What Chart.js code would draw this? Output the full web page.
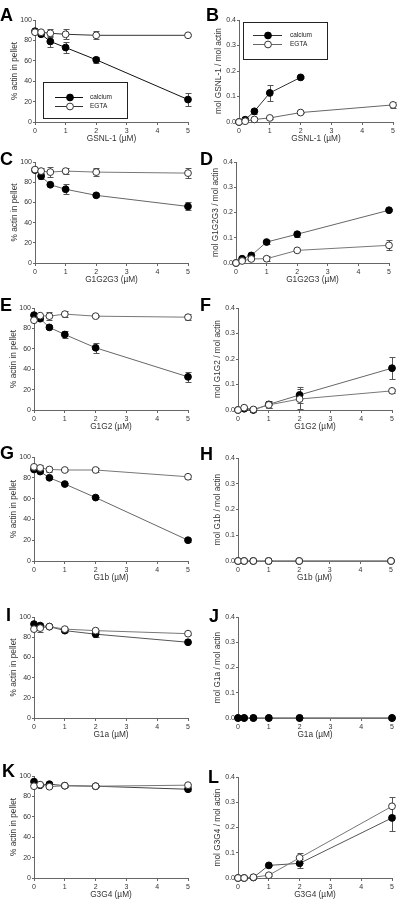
<!DOCTYPE html>
<html><head><meta charset="utf-8">
<script src="https://cdn.jsdelivr.net/npm/chart.js@4"></script>
<style>
html,body{margin:0;padding:0;background:#fff;}
body{width:400px;height:909px;position:relative;overflow:hidden;font-family:"Liberation Sans",Arial,sans-serif;}
.panel{position:absolute;}
.letter{position:absolute;font-weight:bold;font-size:18px;line-height:1;color:#000;font-family:"Liberation Sans",Arial,sans-serif;}
</style></head><body>
<script>
// ---------- data ----------
const conc = [0, 0.2, 0.5, 1, 2, 5];
const concShort = [0, 0.2, 0.5, 1, 2];
const xTicks = [0, 1, 2, 3, 4, 5];
const pctTicks = [0, 20, 40, 60, 80, 100];
const molTicks = [0.0, 0.1, 0.2, 0.3, 0.4];
const seriesNames = ["calcium", "EGTA"];

// A: GSNL-1, % actin in pellet
const A_calcium = [89, 86, 79, 73, 61, 22];
const A_calcium_err = [2, 2, 5, 5, 3, 6];
const A_egta = [88, 88, 87, 86, 85, 85];
const A_egta_err = [2, 1, 4, 5, 4, 1];
// B: GSNL-1, mol/mol
const B_calcium = [0, 0.009, 0.042, 0.114, 0.175];
const B_calcium_err = [0, 0.003, 0.01, 0.03, 0.004];
const B_egta = [0, 0.003, 0.01, 0.016, 0.037, 0.067];
const B_egta_err = [0, 0, 0.002, 0.003, 0.003, 0.012];
// C: G1G2G3
const C_calcium = [92, 86, 77.5, 73, 67, 56];
const C_calcium_err = [1, 3, 1.5, 5, 2, 4];
const C_egta = [92.5, 91, 90, 91, 90, 89];
const C_egta_err = [1, 3, 5, 3, 4, 5];
// D
const D_calcium = [0, 0.017, 0.03, 0.083, 0.114, 0.209];
const D_calcium_err = [0, 0.003, 0.004, 0.008, 0.01, 0.004];
const D_egta = [0, 0.008, 0.016, 0.017, 0.05, 0.07];
const D_egta_err = [0, 0.002, 0.003, 0.01, 0.004, 0.02];
// E: G1G2
const E_calcium = [93, 89.5, 81, 74, 61, 32.5];
const E_calcium_err = [2, 1, 2, 3, 5, 5];
const E_egta = [88, 92.5, 92, 94, 92, 91];
const E_egta_err = [1, 1, 4, 3, 1, 3];
// F
const F_calcium = [0, 0.005, 0, 0.022, 0.059, 0.164];
const F_calcium_err = [0, 0, 0, 0.015, 0.03, 0.043];
const F_egta = [0, 0.009, 0.002, 0.02, 0.043, 0.075];
const F_egta_err = [0, 0.003, 0.008, 0.012, 0.04, 0.008];
// G: G1b
const G_calcium = [88, 86, 80, 74, 61, 20];
const G_calcium_err = [1, 1, 1, 1, 1, 2];
const G_egta = [90.5, 89.5, 88, 87.5, 87.5, 81];
const G_egta_err = [1, 3, 2, 1, 2, 2];
// H
const H_calcium = [0, 0, 0, 0, 0, 0];
const H_egta = [0, 0, 0, 0, 0, 0];
// I: G1a
const I_calcium = [93, 91.5, 90.5, 86.5, 83, 75];
const I_calcium_err = [1, 3, 1, 1, 3, 1];
const I_egta = [88, 89, 90.5, 88, 86.5, 83.5];
const I_egta_err = [1, 4, 1, 1, 1, 1];
// J
const J_calcium = [0, 0, 0, 0, 0, 0];
const J_egta = [0, 0, 0, 0, 0, 0];
// K: G3G4
const K_calcium = [94.5, 91, 92, 90.5, 90, 87];
const K_calcium_err = [1, 1, 1, 1, 1, 2];
const K_egta = [90, 91.5, 89.5, 90.5, 90, 91];
const K_egta_err = [1, 1, 1, 1, 1, 1];
// L
const L_calcium = [0, 0, 0.002, 0.05, 0.058, 0.238];
const L_calcium_err = [0, 0, 0, 0.003, 0.018, 0.05];
const L_egta = [0, 0, 0.003, 0.011, 0.08, 0.284];
const L_egta_err = [0, 0, 0.002, 0.005, 0.02, 0.035];

const xTitles = ["GSNL-1 (µM)", "G1G2G3 (µM)", "G1G2 (µM)", "G1b (µM)", "G1a (µM)", "G3G4 (µM)"];
const molTitles = ["mol GSNL-1 / mol actin", "mol G1G2G3 / mol actin", "mol G1G2 / mol actin", "mol G1b / mol actin", "mol G1a / mol actin", "mol G3G4 / mol actin"];
const pctTitle = "% actin in pellet";

// ---------- layout / style ----------
const FONT = "'Liberation Sans', Arial, sans-serif";
const Y_W = 35, X_H = 30, PAD_T = 10, PAD_R = 10;

const panels = [
  {id:'A', kind:'pct', row:0, ca:[conc,A_calcium,A_calcium_err], eg:[conc,A_egta,A_egta_err], rect:[35,20,188,122], letter:[0,6], caLine:'#111', egLine:'#333',
   legend:{dx:8, dy:62, w:84, h:36, rows:[15,24], l0:12, l1:40, m:27, t:47}},
  {id:'B', kind:'mol', row:0, ca:[concShort,B_calcium,B_calcium_err], eg:[conc,B_egta,B_egta_err], rect:[239,20,393,122], letter:[206,6], caLine:'#333', egLine:'#666',
   legend:{dx:4, dy:2, w:84, h:37, rows:[13,21.5], l0:10, l1:39, m:25, t:47}},
  {id:'C', kind:'pct', row:1, ca:[conc,C_calcium,C_calcium_err], eg:[conc,C_egta,C_egta_err], rect:[35,162,188,263], letter:[0,150], caLine:'#666', egLine:'#777'},
  {id:'D', kind:'mol', row:1, ca:[conc,D_calcium,D_calcium_err], eg:[conc,D_egta,D_egta_err], rect:[236,162,389,263], letter:[200,150], caLine:'#666', egLine:'#777'},
  {id:'E', kind:'pct', row:2, ca:[conc,E_calcium,E_calcium_err], eg:[conc,E_egta,E_egta_err], rect:[34,308,188,410], letter:[0,296], caLine:'#666', egLine:'#777'},
  {id:'F', kind:'mol', row:2, ca:[conc,F_calcium,F_calcium_err], eg:[conc,F_egta,F_egta_err], rect:[238,308,392,410], letter:[200,296], caLine:'#666', egLine:'#777'},
  {id:'G', kind:'pct', row:3, ca:[conc,G_calcium,G_calcium_err], eg:[conc,G_egta,G_egta_err], rect:[34,457,188,561], letter:[0,444], caLine:'#666', egLine:'#777'},
  {id:'H', kind:'mol', row:3, ca:[conc,H_calcium,null], eg:[conc,H_egta,null], rect:[238,458,391,561], letter:[200,445], caLine:'#777', egLine:'#777'},
  {id:'I', kind:'pct', row:4, ca:[conc,I_calcium,I_calcium_err], eg:[conc,I_egta,I_egta_err], rect:[34,617,188,718], letter:[6,606], caLine:'#555', egLine:'#777'},
  {id:'J', kind:'mol', row:4, ca:[conc,J_calcium,null], eg:[conc,J_egta,null], rect:[238,617,392,718], letter:[209,607], caLine:'#777', egLine:'#777', caTop:true},
  {id:'K', kind:'pct', row:5, ca:[conc,K_calcium,K_calcium_err], eg:[conc,K_egta,K_egta_err], rect:[34,776,188,878], letter:[2,762], caLine:'#444', egLine:'#777'},
  {id:'L', kind:'mol', row:5, ca:[conc,L_calcium,L_calcium_err], eg:[conc,L_egta,L_egta_err], rect:[238,777,392,878], letter:[208,768], caLine:'#555', egLine:'#777'}
];

// ---------- plugins ----------
const errorBarPlugin = {
  id: 'errorBars',
  beforeDatasetsDraw(chart) {
    const {ctx} = chart;
    const xs = chart.scales.x, ys = chart.scales.y;
    chart.data.datasets.forEach(ds => {
      if (!ds.errors) return;
      ctx.save();
      ctx.strokeStyle = ds.errorColor || '#555';
      ctx.lineWidth = 1;
      ds.data.forEach((p, j) => {
        const e = ds.errors[j];
        if (!e) return;
        const px = Math.round(xs.getPixelForValue(p.x)) + 0.5;
        const y1 = Math.round(ys.getPixelForValue(p.y + e)) + 0.5;
        const y2 = Math.round(ys.getPixelForValue(p.y - e)) + 0.5;
        ctx.beginPath();
        ctx.moveTo(px, y1); ctx.lineTo(px, y2);
        ctx.moveTo(px - 3, y1); ctx.lineTo(px + 3, y1);
        ctx.moveTo(px - 3, y2); ctx.lineTo(px + 3, y2);
        ctx.stroke();
      });
      ctx.restore();
    });
  }
};

const boxLegendPlugin = {
  id: 'boxLegend',
  afterDraw(chart, args, o) {
    if (!o || !o.display) return;
    const {ctx, chartArea} = chart;
    const bx = Math.round(chartArea.left + o.dx), by = Math.round(chartArea.top + o.dy);
    ctx.save();
    ctx.fillStyle = '#fff';
    ctx.fillRect(bx, by, o.w, o.h);
    ctx.strokeStyle = '#222'; ctx.lineWidth = 1;
    ctx.strokeRect(bx + 0.5, by + 0.5, o.w, o.h);
    chart.data.datasets.forEach((ds, i) => {
      const ry = Math.round(by + o.rows[i]) + 0.5;
      ctx.strokeStyle = ds.borderColor; ctx.lineWidth = 1;
      ctx.beginPath(); ctx.moveTo(bx + o.l0, ry); ctx.lineTo(bx + o.l1, ry); ctx.stroke();
      ctx.beginPath(); ctx.arc(bx + o.m, ry, ds.pointRadius, 0, Math.PI * 2);
      ctx.fillStyle = ds.pointBackgroundColor; ctx.fill();
      ctx.strokeStyle = ds.pointBorderColor; ctx.stroke();
      ctx.fillStyle = '#222';
      ctx.font = "6.5px " + FONT;
      ctx.textBaseline = 'middle'; ctx.textAlign = 'left';
      ctx.fillText(ds.label, bx + o.t, ry);
    });
    ctx.restore();
  }
};

function pts(xArr, yArr) { return yArr.map((v, i) => ({x: xArr[i], y: v})); }

panels.forEach(p => {
  const [L, T, R, B] = p.rect;
  const cw = (R - L) + Y_W + PAD_R, ch = (B - T) + PAD_T + X_H;
  const div = document.createElement('div');
  div.className = 'panel';
  div.style.left = (L - Y_W) + 'px'; div.style.top = (T - PAD_T) + 'px';
  div.style.width = cw + 'px'; div.style.height = ch + 'px';
  const cv = document.createElement('canvas');
  cv.width = cw; cv.height = ch;
  cv.style.width = cw + 'px'; cv.style.height = ch + 'px';
  div.appendChild(cv);
  document.body.appendChild(div);

  const lt = document.createElement('div');
  lt.className = 'letter';
  lt.textContent = p.id;
  lt.style.left = p.letter[0] + 'px'; lt.style.top = p.letter[1] + 'px';
  document.body.appendChild(lt);

  const isPct = p.kind === 'pct';
  const ticksArr = isPct ? pctTicks : molTicks;
  const mk = (name, s, filled, line, order) => ({
    label: name,
    data: pts(s[0], s[1]),
    errors: s[2],
    borderColor: line,
    borderWidth: 1,
    pointRadius: 3.4,
    pointBackgroundColor: filled ? '#000' : '#fff',
    pointBorderColor: filled ? '#000' : '#333',
    pointBorderWidth: 1,
    tension: 0,
    fill: false,
    clip: false,
    order: order,
    errorColor: '#555'
  });
  const caOrder = p.caTop ? 0 : 1, egOrder = p.caTop ? 1 : 0;

  new Chart(cv, {
    type: 'line',
    data: { datasets: [
      mk(seriesNames[0], p.ca, true, p.caLine, caOrder),
      mk(seriesNames[1], p.eg, false, p.egLine, egOrder)
    ]},
    options: {
      responsive: false,
      animation: false,
      devicePixelRatio: 1,
      events: [],
      layout: { padding: { left: 0, top: PAD_T, right: PAD_R, bottom: 0 } },
      plugins: {
        legend: { display: false },
        tooltip: { enabled: false },
        boxLegend: p.legend ? Object.assign({display: true}, p.legend) : {display: false}
      },
      scales: {
        x: {
          type: 'linear', min: xTicks[0], max: xTicks[xTicks.length - 1],
          afterBuildTicks(s) { s.ticks = xTicks.map(v => ({value: v})); },
          ticks: { font: {size: 7, family: FONT}, color: '#333', padding: 2, maxRotation: 0, autoSkip: false },
          grid: { display: true, drawOnChartArea: false, drawTicks: true, tickLength: 3, color: '#666' },
          border: { display: true, color: '#666', width: 1 },
          title: { display: true, text: xTitles[p.row], font: {size: 8.3, family: FONT}, color: '#333', padding: {top: 0, bottom: 8} },
          afterFit(s) { s.height = X_H; }
        },
        y: {
          type: 'linear', min: ticksArr[0], max: ticksArr[ticksArr.length - 1],
          afterBuildTicks(s) { s.ticks = ticksArr.map(v => ({value: v})); },
          ticks: { font: {size: 7, family: FONT}, color: '#333', padding: 1, autoSkip: false,
                   callback: v => isPct ? String(v) : Number(v).toFixed(1) },
          grid: { display: true, drawOnChartArea: false, drawTicks: true, tickLength: 2, color: '#666' },
          border: { display: true, color: '#666', width: 1 },
          title: { display: true, text: isPct ? pctTitle : molTitles[p.row], font: {size: 8.3, family: FONT}, color: '#333', padding: {top: 10, bottom: 0} },
          afterFit(s) { s.width = Y_W; }
        }
      }
    },
    plugins: [errorBarPlugin, boxLegendPlugin]
  });
});
</script>
</body></html>
